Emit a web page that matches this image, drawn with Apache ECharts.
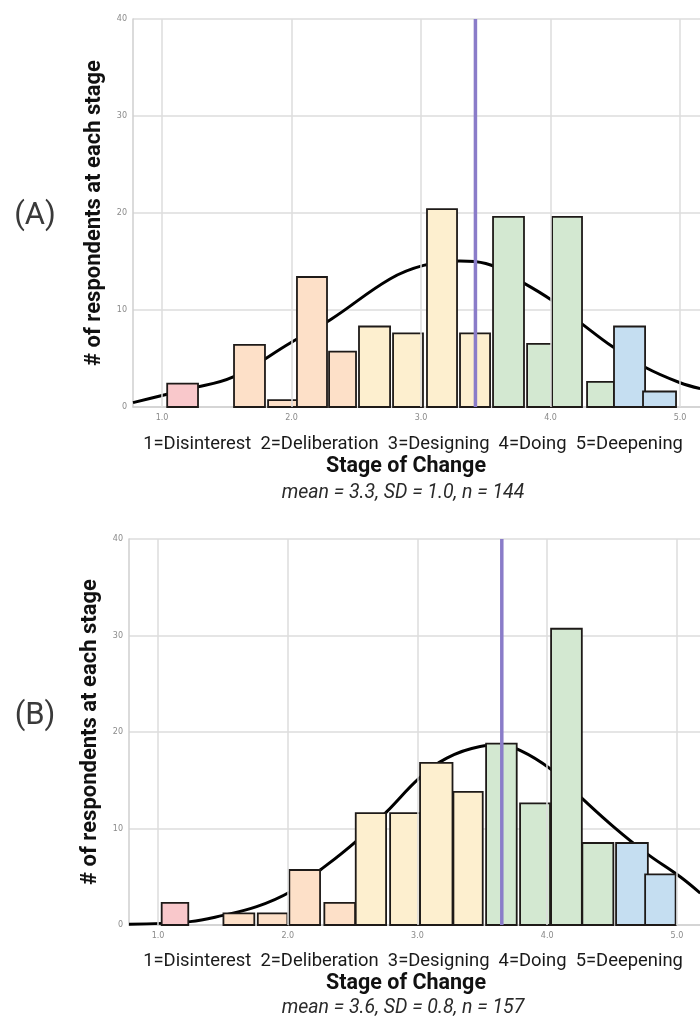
<!DOCTYPE html>
<html>
<head>
<meta charset="utf-8">
<script src="https://cdn.jsdelivr.net/npm/echarts@6/dist/echarts.min.js"></script>
<style>
html,body{margin:0;padding:0;background:#fff;}
#chart{width:700px;height:1019px;}
</style>
</head>
<body>
<div id="chart"></div>
<script>
// ---------- Data ----------
const stageColors = ['#f9c8cb', '#fde0c8', '#fdefcf', '#d3e8d1', '#c5def1'];
const xTickValues = [1, 2, 3, 4, 5];
const stageText = '1=Disinterest  2=Deliberation  3=Designing  4=Doing  5=Deepening';
const axisTitleX = 'Stage of Change';
const axisTitleY = '# of respondents at each stage';

// Panel A
const binStartA = [1.04, 1.556, 1.819, 2.042, 2.290, 2.521, 2.784, 3.046, 3.301, 3.556, 3.819, 4.012, 4.282, 4.490, 4.714];
const binEndA   = [1.278, 1.795, 2.050, 2.274, 2.498, 2.761, 3.015, 3.278, 3.533, 3.795, 4.012, 4.243, 4.490, 4.730, 4.969];
const countsA   = [2.4, 6.4, 0.7, 13.4, 5.7, 8.3, 7.6, 20.4, 7.6, 19.6, 6.5, 19.6, 2.6, 8.3, 1.6];
const stageA    = [1, 2, 2, 2, 2, 3, 3, 3, 3, 4, 4, 4, 4, 5, 5];
const curveXA   = [0.776, 1.216, 1.55, 1.99, 2.30, 2.76, 3.02, 3.30, 3.50, 3.79, 4.01, 4.24, 4.48, 4.73, 5.00, 5.155];
const curveYA   = [0.45, 1.9, 3.1, 6.6, 9.0, 13.2, 14.6, 15.05, 14.8, 12.8, 11.0, 8.6, 6.2, 4.1, 2.5, 1.9];
const meanLineA = 3.42;
const statsA    = 'mean = 3.3, SD = 1.0, n = 144';

// Panel B
const binStartB = [1.028, 1.504, 1.769, 2.012, 2.282, 2.524, 2.789, 3.020, 3.277, 3.529, 3.791, 4.030, 4.271, 4.531, 4.755];
const binEndB   = [1.233, 1.742, 1.997, 2.249, 2.519, 2.758, 3.020, 3.270, 3.503, 3.765, 4.022, 4.267, 4.510, 4.776, 4.990];
const countsB   = [2.3, 1.2, 1.2, 5.7, 2.3, 11.6, 11.6, 16.8, 13.8, 18.8, 12.6, 30.7, 8.5, 8.5, 5.25];
const stageB    = [1, 2, 2, 2, 2, 3, 3, 3, 3, 4, 4, 4, 4, 5, 5];
const curveXB   = [0.776, 1.247, 1.50, 1.76, 2.02, 2.25, 2.52, 2.76, 3.02, 3.226, 3.483, 3.637, 3.791, 4.022, 4.254, 4.51, 4.768, 5.025, 5.18];
const curveYB   = [0.08, 0.35, 1.0, 1.9, 3.45, 5.7, 8.6, 11.7, 15.3, 17.3, 18.5, 18.65, 18.1, 16.2, 13.3, 10.2, 7.4, 5.0, 3.3];
const meanLineB = 3.65;
const statsB    = 'mean = 3.6, SD = 0.8, n = 157';

// ---------- Build ----------
const chart = echarts.init(document.getElementById('chart'), null, {renderer: 'canvas'});

function barRows(starts, ends, counts, stages) {
  return starts.map((s, i) => [s, ends[i], counts[i], stages[i]]);
}
function renderBar(params, api) {
  const x0 = api.value(0), x1 = api.value(1), h = api.value(2), st = api.value(3);
  const p0 = api.coord([x0, h]);
  const p1 = api.coord([x1, 0]);
  return {
    type: 'rect',
    shape: {x: p0[0], y: p0[1], width: p1[0] - p0[0], height: p1[1] - p0[1]},
    style: {fill: stageColors[st - 1], stroke: '#1e1a18', lineWidth: 1.8}
  };
}

const gridLineColor = '#dcdcdc';
function xAxisCfg(gi, max) {
  return {
    type: 'value', gridIndex: gi, min: 0.776, max: max,
    axisLine: {show: true, lineStyle: {color: '#cfcfcf', width: 1.5}},
    axisTick: {show: false},
    splitLine: {show: false},
    axisLabel: {
      customValues: xTickValues, formatter: v => v.toFixed(1),
      color: '#8a8a8a', fontSize: 8, fontFamily: 'DejaVu Sans', margin: 7
    }
  };
}
function yAxisCfg(gi) {
  return {
    type: 'value', gridIndex: gi, min: 0, max: 40, interval: 10,
    name: axisTitleY, nameLocation: 'middle', nameGap: 22,
    nameTextStyle: {fontSize: 22, fontWeight: 'bold', color: '#111', fontFamily: 'Roboto'},
    axisLine: {show: true, lineStyle: {color: '#cfcfcf', width: 1.5}},
    axisTick: {show: false},
    splitLine: {show: true, lineStyle: {color: gridLineColor, width: 1.5}},
    axisLabel: {color: '#8a8a8a', fontSize: 8, fontFamily: 'DejaVu Sans', margin: 6}
  };
}
function panelSeries(gi, starts, ends, counts, stages, cx, cy, meanX) {
  return [
    { // vertical grid lines
      type: 'line', xAxisIndex: gi, yAxisIndex: gi, data: [], silent: true, z: 1,
      markLine: {
        silent: true, symbol: 'none', label: {show: false},
        lineStyle: {color: gridLineColor, width: 1.5, type: 'solid'},
        data: xTickValues.map(v => ({xAxis: v}))
      }
    },
    {
      type: 'line', xAxisIndex: gi, yAxisIndex: gi, smooth: 0.4, showSymbol: false, z: 2,
      lineStyle: {color: '#000', width: 3},
      data: cx.map((x, i) => [x, cy[i]])
    },
    {
      type: 'custom', xAxisIndex: gi, yAxisIndex: gi, z: 3,
      renderItem: renderBar, encode: {x: [0, 1], y: 2},
      data: barRows(starts, ends, counts, stages)
    },
    {
      type: 'line', xAxisIndex: gi, yAxisIndex: gi, showSymbol: false, z: 4,
      lineStyle: {color: '#8a7cc9', width: 3.5},
      data: [[meanX, 0], [meanX, 40]]
    }
  ];
}

function textBlock(yStage, yTitle, yStats, stats) {
  return [
    {type: 'text', x: 413, y: yStage, style: {text: stageText, font: '18.4px Roboto', fill: '#1a1a1a', textAlign: 'center', textVerticalAlign: 'middle'}},
    {type: 'text', x: 406, y: yTitle, style: {text: axisTitleX, font: 'bold 21.5px Roboto', fill: '#111', textAlign: 'center', textVerticalAlign: 'middle'}},
    {type: 'text', x: 403, y: yStats, style: {text: stats, font: 'italic 19.5px Roboto', fill: '#2a2a2a', textAlign: 'center', textVerticalAlign: 'middle'}}
  ];
}

const option = {
  backgroundColor: '#ffffff',
  animation: false,
  grid: [
    {left: 133, right: 0, top: 19, height: 388},
    {left: 129, right: 0, top: 539, height: 386}
  ],
  xAxis: [xAxisCfg(0, 5.154), xAxisCfg(1, 5.178)],
  yAxis: [yAxisCfg(0), yAxisCfg(1)],
  series: [
    ...panelSeries(0, binStartA, binEndA, countsA, stageA, curveXA, curveYA, meanLineA),
    ...panelSeries(1, binStartB, binEndB, countsB, stageB, curveXB, curveYB, meanLineB)
  ],
  graphic: [
    {type: 'text', x: 35, y: 216, style: {text: '(A)', font: '31px Roboto', fill: '#3a3a3a', textAlign: 'center', textVerticalAlign: 'middle'}},
    {type: 'text', x: 35, y: 716, style: {text: '(B)', font: '31px Roboto', fill: '#3a3a3a', textAlign: 'center', textVerticalAlign: 'middle'}},
    ...textBlock(444, 467, 493, statsA),
    ...textBlock(961, 984, 1008, statsB)
  ]
};
chart.setOption(option);
</script>
</body>
</html>
